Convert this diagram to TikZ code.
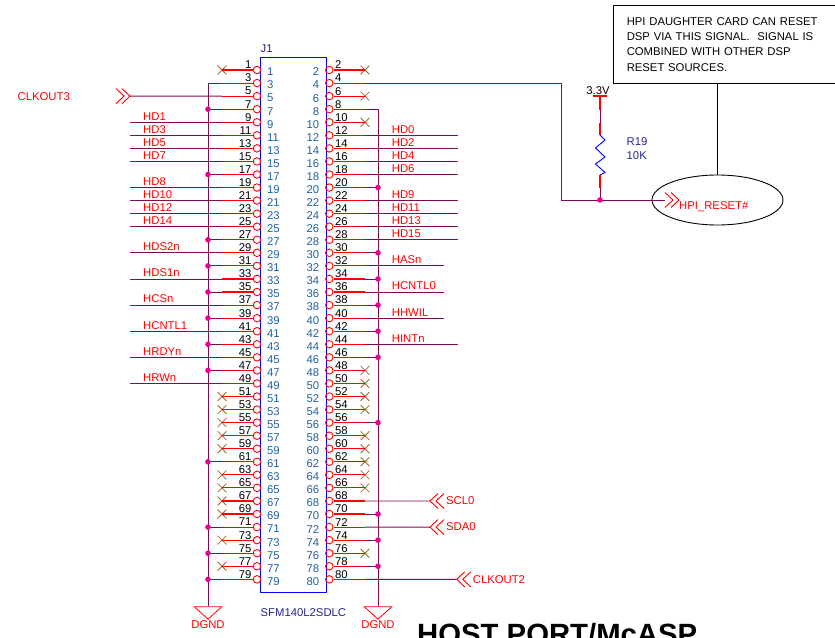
\documentclass[tikz,border=0pt]{standalone}
\usepackage{fontspec}
\setmainfont{Liberation Sans}
\usetikzlibrary{shapes,positioning}

\definecolor{wirecol}{HTML}{800A4E}
\definecolor{pinblue}{HTML}{1F5F9F}
\definecolor{partblue}{HTML}{24248F}
\definecolor{nccol}{HTML}{A5682A}

\tikzset{
    pinhole/.style={draw=red, circle, line width=0.9pt, inner sep=0pt, minimum size=7.5pt},
    pinnum/.style={inner sep=0pt, text=black},
    pinname/.style={inner sep=0pt, text=pinblue},
    netname/.style={inner sep=0pt, anchor=west, text=red},
    wire/.style={draw=wirecol, line width=0.9pt},
    stub/.style={draw=red, line width=1.1pt},
    joint/.style={fill=magenta, circle, inner sep=0pt, minimum size=5.6pt},
    ncmark/.style={draw=nccol, cross out, line width=0.8pt, inner sep=0pt, minimum size=8pt},
    gndmark/.style={draw=red, isosceles triangle, isosceles triangle stretches, shape border rotate=270,
        line width=0.8pt, inner sep=0pt, minimum width=27.5pt, minimum height=12.5pt},
    chevrons/.pic={
        \draw[red, line width=0.9pt] (-8,-7.5) -- (0,0) -- (-8,7.5) (-14,-7.5) -- (-6,0) -- (-14,7.5);
        \coordinate (-tip) at (0,0);
    }
}

\begin{document}
\begin{tikzpicture}[x=1pt,y=-1pt,font=\fontsize{11.3}{13.6}\selectfont]

\useasboundingbox (0,0) rectangle (835,637);

\coordinate (lsig) at (130,0);
\coordinate (lbus) at (208,0);
\coordinate (lstub) at (222,0);
\coordinate (rstub) at (365,0);
\coordinate (rbus) at (378,0);
\coordinate (hpicol) at (561,0);

\node[draw=blue,
    line width=1pt,
    minimum width=66pt,
    minimum height=535.3pt,
    inner sep=0pt
] (j1) at (293.4,324.7) {};

\node[text=partblue, inner sep=0pt, anchor=south west] (j1name) at (260.5,52.5) { J1 };
\node[text=partblue, inner sep=0pt, anchor=west] (j1part) at (260.5,612.7) { SFM140L2SDLC };

\foreach \n [evaluate=\n as \rowy using 70+6.53*(\n-1)] in {1,3,...,79} {
    \node[pinhole] (pin\n) at (257,\rowy) {};
    \node[pinnum, anchor=east] (num\n) at (251.6,\rowy-5) { \n };
    \node[pinname, anchor=west] (name\n) at (267,\rowy+2) { \n };
    \coordinate (stub\n) at (pin\n -| lstub);
}

\foreach \n [evaluate=\n as \rowy using 70+6.53*(\n-2)] in {2,4,...,80} {
    \node[pinhole] (pin\n) at (329.3,\rowy) {};
    \node[pinnum, anchor=west] (num\n) at (335,\rowy-5) { \n };
    \node[pinname, anchor=east] (name\n) at (319.3,\rowy+2) { \n };
    \coordinate (stub\n) at (pin\n -| rstub);
}

\foreach \n in {1,51,53,55,57,59,63,65,67,69,73,77,2,6,10,48,50,52,54,58,60,62,64,66,76} {
    \node[ncmark] (nc\n) at (stub\n) {};
    \draw[stub] (pin\n) -- (nc\n.center);
}

\node[gndmark] (gndL) at (208,612) {};
\node[gndmark] (gndR) at (378,612) {};
\node[text=red, inner sep=0pt] (gndLname) at (208,625) { DGND };
\node[text=red, inner sep=0pt] (gndRname) at (378,625) { DGND };

\coordinate (busL) at (pin3 -| lbus);
\coordinate (busR) at (pin8 -| rbus);
\draw[wire] (stub3) -- (busL) -- (gndL);
\draw[wire] (stub8) -- (busR) -- (gndR);

\foreach \n in {7,17,27,31,35,39,43,47,61,71,75,79} {
    \coordinate (tap\n) at (pin\n -| lbus);
    \draw[wire] (stub\n) -- (tap\n);
    \node[joint] (dot\n) at (tap\n) {};
}

\foreach \n in {20,30,34,38,42,46,56,70,74,78} {
    \coordinate (tap\n) at (pin\n -| rbus);
    \draw[wire] (stub\n) -- (tap\n);
    \node[joint] (dot\n) at (tap\n) {};
}

\foreach \n/\txt in {9/HD1,11/HD3,13/HD5,15/HD7,19/HD8,21/HD10,23/HD12,25/HD14,
        29/HDS2n,33/HDS1n,37/HCSn,41/HCNTL1,45/HRDYn,49/HRWn} {
    \coordinate (sig\n) at (pin\n -| lsig);
    \draw[wire] (stub\n) -- (sig\n);
    \node[netname] (net\n) at ([shift={(13,-6)}]sig\n) { \txt };
}

\foreach \n/\txt/\xend in {12/HD0/458,14/HD2/458,16/HD4/458,18/HD6/458,22/HD9/458,24/HD11/458,
        26/HD13/458,28/HD15/458,32/HASn/444,36/HCNTL0/444,40/HHWIL/444,44/HINTn/458} {
    \coordinate (sigx\n) at (\xend,0);
    \coordinate (sig\n) at (pin\n -| sigx\n);
    \draw[wire] (stub\n) -- (sig\n);
    \node[netname] (net\n) at ([shift={(26.7,-6)}]stub\n) { \txt };
}

\pic (clkthree) at (130,96.1) {chevrons};
\node[netname] (clkthreename) at (17.5,97) { CLKOUT3 };
\draw[wire] (clkthree-tip) -- (stub5);

\pic (sclzero) [xscale=-1] at (430,501) {chevrons};
\node[netname, right=2pt of sclzero-tip, xshift=14pt] (sclzeroname) { SCL0 };
\draw[wire] (stub68) -- (sclzero-tip);

\pic (sdazero) [xscale=-1] at (430,527.1) {chevrons};
\node[netname, right=2pt of sdazero-tip, xshift=14pt] (sdazeroname) { SDA0 };
\draw[wire] (stub72) -- (sdazero-tip);

\pic (clktwo) [xscale=-1] at (456.7,579.3) {chevrons};
\node[netname, right=2pt of clktwo-tip, xshift=14pt] (clktwoname) { CLKOUT2 };
\draw[wire] (stub80) -- (clktwo-tip);

\foreach \n in {3,5,7,9,11,13,15,17,19,21,23,25,27,29,31,33,35,37,39,41,43,45,47,49,61,71,75,79,
        4,8,12,14,16,18,20,22,24,26,28,30,32,34,36,38,40,42,44,46,56,68,70,72,74,78,80} {
    \draw[stub] (pin\n) -- (stub\n);
}

\node[draw=black,
    line width=0.9pt,
    anchor=north west,
    text width=196pt,
    inner xsep=13pt,
    inner ysep=0pt,
    minimum height=78pt,
    font=\fontsize{11.3}{15.3}\selectfont,
    align=left
] (note) at (613.3,5) { HPI DAUGHTER CARD CAN RESET\\DSP VIA THIS SIGNAL.\ \ SIGNAL IS\\COMBINED WITH OTHER DSP\\RESET SOURCES. };

\node[draw=black,
    ellipse,
    line width=0.9pt,
    minimum width=131pt,
    minimum height=50pt,
    inner sep=0pt
] (hpibubble) at (717.5,200) {};

\draw[line width=0.9pt] (note.south -| hpibubble) -- (hpibubble);

\pic (hpi) at (679,200) {chevrons};
\node[netname] (hpiname) at (679,206.7) { HPI\_RESET\# };

\coordinate (hpitail) at (665,200);
\coordinate (hpibend) at (561,200);
\coordinate (hpitap) at (600,200);
\draw[wire] (stub4) -- (pin4 -| hpicol) -- (hpibend) -- (hpitail);

\coordinate (pwr) at (600,96);
\coordinate (r19top) at (600,135);
\coordinate (r19bot) at (600,175);
\draw[stub] ([xshift=-7pt]pwr) -- ([xshift=7pt]pwr);
\node[inner sep=0pt, above=1.5pt of pwr, xshift=-2pt] (pwrname) { 3.3V };
\draw[wire] (pwr) -- (r19top);
\draw[wire] (r19bot) -- (hpitap);
\draw[stub] (pwr) -- ++(0,14);
\draw[stub] (r19top) -- ++(0,-12);
\draw[stub] (r19bot) -- ++(0,13);
\node[joint] (hpidot) at (hpitap) {};
\draw[draw=blue, line width=0.9pt] (r19top) -- ++(5,5) -- ++(-9.5,8) -- ++(9.5,9) -- ++(-9.5,7) -- ++(9.5,8.5) -- (r19bot);
\node[text=partblue, inner sep=0pt, anchor=west] (r19name) at (626.5,142) { R19 };
\node[text=partblue, inner sep=0pt, anchor=west] (r19value) at (626.5,156) { 10K };

\node[inner sep=0pt, anchor=base west, font=\bfseries\fontsize{29.3}{32}\selectfont] (title) at (417,644) { HOST PORT/McASP };

\end{tikzpicture}
\end{document}
